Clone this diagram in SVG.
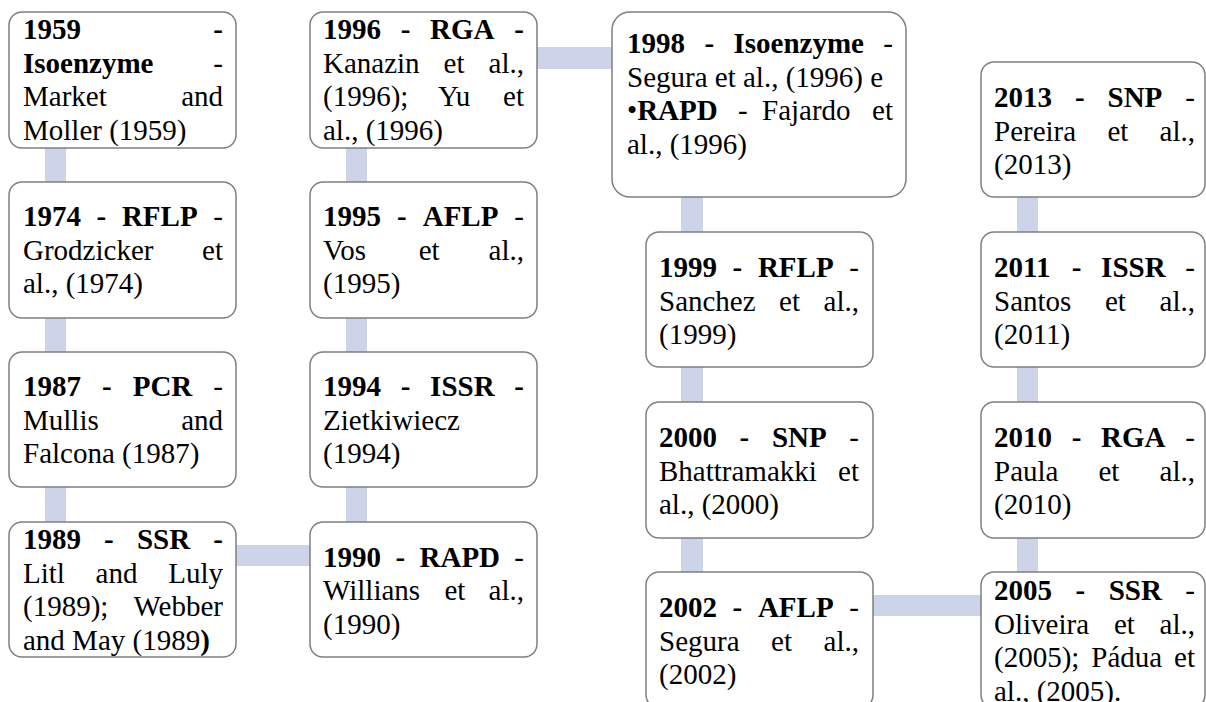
<svg xmlns="http://www.w3.org/2000/svg" width="1206" height="702" viewBox="0 0 1206 702">
<style>
.box{fill:#fff;stroke:#7f7f7f;stroke-width:1.5}
.con{fill:#cdd3e8}
text{font-family:"Liberation Serif","Times New Roman",serif;font-size:29px;fill:#000}
.b{font-weight:bold}
.e{text-anchor:end}
</style>
<rect width="1206" height="702" fill="#fff"/>
<g id="connectors">
<rect class="con" x="45" y="148" width="21" height="34"/>
<rect class="con" x="45" y="318" width="21" height="34"/>
<rect class="con" x="45" y="487" width="21" height="35"/>
<rect class="con" x="236" y="545" width="74" height="21"/>
<rect class="con" x="346" y="148" width="21" height="34"/>
<rect class="con" x="346" y="318" width="21" height="34"/>
<rect class="con" x="346" y="487" width="21" height="35"/>
<rect class="con" x="537" y="47" width="75" height="22"/>
<rect class="con" x="681" y="197" width="22" height="35"/>
<rect class="con" x="681" y="367" width="22" height="35"/>
<rect class="con" x="681" y="538" width="22" height="34"/>
<rect class="con" x="873" y="595" width="108" height="21"/>
<rect class="con" x="1017" y="197" width="21" height="35"/>
<rect class="con" x="1017" y="367" width="21" height="35"/>
<rect class="con" x="1017" y="538" width="21" height="34"/>
</g>
<g id="n1959">
<rect class="box" x="9" y="12" width="227" height="136" rx="13"/>
<text class="b" x="23" y="39">1959</text><text class="b e" x="223" y="39">-</text>
<text class="b" x="23" y="72.5">Isoenzyme</text><text class="e" x="223" y="72.5">-</text>
<text x="23" y="106">Market</text><text class="e" x="223" y="106">and</text>
<text x="23" y="139.5">Moller (1959)</text>
</g>
<g id="n1974">
<rect class="box" x="9" y="182" width="227" height="136" rx="13"/>
<text class="b" x="23" y="226">1974</text><text class="b" x="96.6" y="226">-</text><text class="b" x="121.9" y="226">RFLP</text><text class="e" x="223" y="226">-</text>
<text x="23" y="259.5">Grodzicker</text><text class="e" x="223" y="259.5">et</text>
<text x="23" y="293">al., (1974)</text>
</g>
<g id="n1987">
<rect class="box" x="9" y="352" width="227" height="135" rx="13"/>
<text class="b" x="23" y="396">1987</text><text class="b" x="102" y="396">-</text><text class="b" x="132.7" y="396">PCR</text><text class="e" x="223" y="396">-</text>
<text x="23" y="429.5">Mullis</text><text class="e" x="223" y="429.5">and</text>
<text x="23" y="463">Falcona (1987)</text>
</g>
<g id="n1989">
<rect class="box" x="9" y="522" width="227" height="135" rx="13"/>
<text class="b" x="23" y="549">1989</text><text class="b" x="104.1" y="549">-</text><text class="b" x="136.9" y="549">SSR</text><text class="b e" x="223" y="549">-</text>
<text x="23" y="582.5">Litl</text><text x="95.6" y="582.5">and</text><text class="e" x="223" y="582.5">Luly</text>
<text x="23" y="616">(1989);</text><text class="e" x="223" y="616">Webber</text>
<text x="23" y="649.5">and May (1989<tspan class="b">)</tspan></text>
</g>
<g id="n1996">
<rect class="box" x="310" y="12" width="227" height="136" rx="13"/>
<text class="b" x="323" y="39">1996</text><text class="b" x="400.7" y="39">-</text><text class="b" x="430.1" y="39">RGA</text><text class="b e" x="524" y="39">-</text>
<text x="323" y="72.5">Kanazin</text><text x="443.6" y="72.5">et</text><text class="e" x="524" y="72.5">al.,</text>
<text x="323" y="106">(1996);</text><text x="438" y="106">Yu</text><text class="e" x="524" y="106">et</text>
<text x="323" y="139.5">al., (1996)</text>
</g>
<g id="n1995">
<rect class="box" x="310" y="182" width="227" height="136" rx="13"/>
<text class="b" x="323" y="226">1995</text><text class="b" x="397" y="226">-</text><text class="b" x="422.7" y="226">AFLP</text><text class="e" x="524" y="226">-</text>
<text x="323" y="259.5">Vos</text><text x="418.7" y="259.5">et</text><text class="e" x="524" y="259.5">al.,</text>
<text x="323" y="293">(1995)</text>
</g>
<g id="n1994">
<rect class="box" x="310" y="352" width="227" height="135" rx="13"/>
<text class="b" x="323" y="396">1994</text><text class="b" x="400.7" y="396">-</text><text class="b" x="430.1" y="396">ISSR</text><text class="b e" x="524" y="396">-</text>
<text x="323" y="429.5">Zietkiwiecz</text>
<text x="323" y="463">(1994)</text>
</g>
<g id="n1990">
<rect class="box" x="310" y="522" width="227" height="135" rx="13"/>
<text class="b" x="323" y="567">1990</text><text class="b" x="395.4" y="567">-</text><text class="b" x="419.5" y="567">RAPD</text><text class="e" x="524" y="567">-</text>
<text x="323" y="600">Willians</text><text x="444.5" y="600">et</text><text class="e" x="524" y="600">al.,</text>
<text x="323" y="633.5">(1990)</text>
</g>
<g id="n1998">
<rect class="box" x="612" y="12" width="294" height="185" rx="18"/>
<text class="b" x="627" y="53">1998</text><text class="b" x="704.4" y="53">-</text><text class="b" x="733.5" y="53">Isoenzyme</text><text class="e" x="893" y="53">-</text>
<text x="627" y="86.5">Segura et al., (1996) e</text>
<text x="627" y="120">•<tspan class="b">RAPD</tspan></text><text x="738" y="120">-</text><text x="762" y="120">Fajardo</text><text class="e" x="893" y="120">et</text>
<text x="627" y="153.5">al., (1996)</text>
</g>
<g id="n1999">
<rect class="box" x="646" y="232" width="227" height="135" rx="13"/>
<text class="b" x="659" y="277">1999</text><text class="b" x="732.6" y="277">-</text><text class="b" x="757.9" y="277">RFLP</text><text class="e" x="859" y="277">-</text>
<text x="659" y="310.5">Sanchez</text><text x="779.1" y="310.5">et</text><text class="e" x="859" y="310.5">al.,</text>
<text x="659" y="344">(1999)</text>
</g>
<g id="n2000">
<rect class="box" x="646" y="402" width="227" height="136" rx="13"/>
<text class="b" x="659" y="447">2000</text><text class="b" x="739.6" y="447">-</text><text class="b" x="771.9" y="447">SNP</text><text class="e" x="859" y="447">-</text>
<text x="659" y="480.5">Bhattramakki</text><text class="e" x="859" y="480.5">et</text>
<text x="659" y="514">al., (2000)</text>
</g>
<g id="n2002">
<rect class="box" x="646" y="572" width="227" height="136" rx="13"/>
<text class="b" x="659" y="617">2002</text><text class="b" x="732.6" y="617">-</text><text class="b" x="757.9" y="617">AFLP</text><text class="e" x="859" y="617">-</text>
<text x="659" y="650.5">Segura</text><text x="771.1" y="650.5">et</text><text class="e" x="859" y="650.5">al.,</text>
<text x="659" y="684">(2002)</text>
</g>
<g id="n2013">
<rect class="box" x="981" y="62" width="224" height="135" rx="13"/>
<text class="b" x="994" y="107">2013</text><text class="b" x="1074.9" y="107">-</text><text class="b" x="1107.5" y="107">SNP</text><text class="e" x="1195" y="107">-</text>
<text x="994" y="140.5">Pereira</text><text x="1107.4" y="140.5">et</text><text class="e" x="1195" y="140.5">al.,</text>
<text x="994" y="174">(2013)</text>
</g>
<g id="n2011">
<rect class="box" x="981" y="232" width="224" height="135" rx="13"/>
<text class="b" x="994" y="277">2011</text><text class="b" x="1071.7" y="277">-</text><text class="b" x="1101.1" y="277">ISSR</text><text class="e" x="1195" y="277">-</text>
<text x="994" y="310.5">Santos</text><text x="1105" y="310.5">et</text><text class="e" x="1195" y="310.5">al.,</text>
<text x="994" y="344">(2011)</text>
</g>
<g id="n2010">
<rect class="box" x="981" y="402" width="224" height="136" rx="13"/>
<text class="b" x="994" y="447">2010</text><text class="b" x="1071.7" y="447">-</text><text class="b" x="1101.1" y="447">RGA</text><text class="e" x="1195" y="447">-</text>
<text x="994" y="480.5">Paula</text><text x="1098.5" y="480.5">et</text><text class="e" x="1195" y="480.5">al.,</text>
<text x="994" y="514">(2010)</text>
</g>
<g id="n2005">
<rect class="box" x="981" y="572" width="224" height="136" rx="13"/>
<text class="b" x="994" y="600">2005</text><text class="b" x="1075.5" y="600">-</text><text class="b" x="1108.7" y="600">SSR</text><text class="e" x="1195" y="600">-</text>
<text x="994" y="633.5">Oliveira</text><text x="1113.9" y="633.5">et</text><text class="e" x="1195" y="633.5">al.,</text>
<text x="994" y="667">(2005);</text><text x="1091.3" y="667">Pádua</text><text class="e" x="1195" y="667">et</text>
<text x="994" y="700.5">al., (2005).</text>
</g>
</svg>
